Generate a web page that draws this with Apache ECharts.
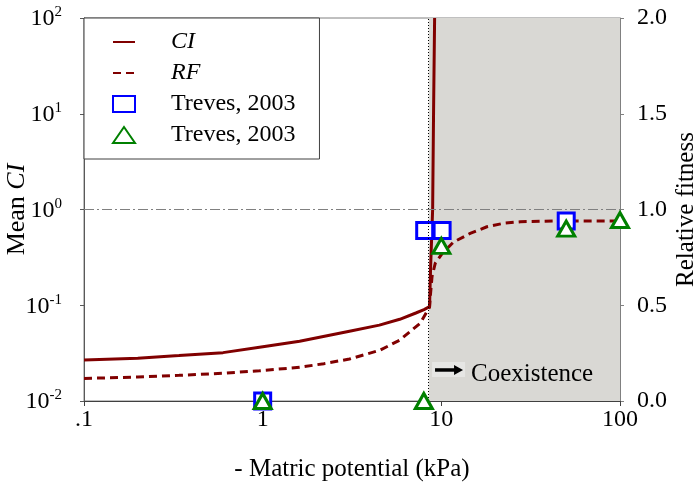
<!DOCTYPE html>
<html>
<head>
<meta charset="utf-8">
<script src="https://cdn.jsdelivr.net/npm/echarts@6/dist/echarts.min.js"></script>
<style>html,body{margin:0;padding:0;background:#fff}#c{width:696px;height:492px}</style>
</head>
<body>
<div id="c"></div>
<script>
// ---- data ----
var ciX = [0.1, 0.2, 0.34, 0.6, 0.96, 1.61, 3.06, 4.5, 5.85, 7.2, 8.0, 8.59, 8.71, 8.94, 9.05, 9.17];
var ciY = [0.0268, 0.028, 0.0298, 0.032, 0.0364, 0.042, 0.0536, 0.062, 0.0713, 0.083, 0.09, 0.0966, 0.25, 1.0, 11, 100];
var rfX = [0.1, 0.2, 0.34, 0.6, 0.96, 1.61, 2.2, 3.06, 4.55, 5.85, 7.62, 8.59, 8.7, 8.87, 9.25, 10.1, 11.7, 14.5, 18, 22.3, 27.7, 42, 100];
var rfY = [0.118, 0.125, 0.134, 0.145, 0.158, 0.176, 0.195, 0.219, 0.266, 0.318, 0.406, 0.49, 0.56, 0.65, 0.72, 0.77, 0.83, 0.875, 0.91, 0.928, 0.936, 0.94, 0.94];
var sqX = [1, 8.07, 10.1, 50];
var sqY = [0, 0.89, 0.89, 0.94];
var triX = [1, 7.98, 10, 50, 100];
var triY = [0, 0, 0.81, 0.90, 0.945];
var xTickLabels = ['.1', '1', '10', '100'];
var coexStart = 8.5;          // boundary of coexistence region (kPa)
var refLineRF = 1.0;          // reference line (relative fitness = 1, CI = 1)
var annoPoint = [9.22, 0.162];
var annoText = 'Coexistence';
var legendLabels = {CI: '{i|CI}', RF: '{i|RF}', sq: 'Treves, 2003', tri: 'Treves, 2003'};

function zip(a, b) { return a.map(function (v, i) { return [v, b[i]]; }); }

var FONT = 'Liberation Serif';
var RED = '#800000';
var chart = echarts.init(document.getElementById('c'), null, {renderer: 'canvas'});
var hideSym = {opacity: 0, color: 'transparent', borderColor: 'transparent', borderWidth: 0};

var option = {
  animation: false,
  backgroundColor: '#fff',
  grid: {left: 84, right: 76, top: 18, bottom: 91, containLabel: false, outerBoundsMode: 'none',
    show: true, borderColor: '#808080', borderWidth: 1, backgroundColor: 'transparent'},
  legend: {
    orient: 'vertical', left: 84, top: 18,
    padding: [12, 24, 12, 28], itemGap: 7, itemWidth: 22, itemHeight: 16,
    borderColor: '#404040', borderWidth: 1, backgroundColor: '#fff',
    data: [{name: 'CI', itemStyle: hideSym}, {name: 'RF', itemStyle: hideSym}, 'sq', 'tri'],
    formatter: function (n) { return legendLabels[n]; },
    textStyle: {fontFamily: FONT, fontSize: 24, color: '#000', padding: [0, 0, 0, 31],
      rich: {i: {fontFamily: FONT, fontSize: 24, fontStyle: 'italic', color: '#000'}}}
  },
  xAxis: {
    type: 'log', logBase: 10, min: 0.1, max: 100,
    name: '- Matric potential (kPa)', nameLocation: 'middle', nameGap: 56, nameMoveOverlap: false,
    nameTextStyle: {fontFamily: FONT, fontSize: 25, color: '#000'},
    axisLine: {show: true, lineStyle: {color: '#404040', width: 1}},
    axisTick: {show: true, inside: false, length: 5, lineStyle: {color: '#404040'}},
    minorTick: {show: false}, splitLine: {show: false}, minorSplitLine: {show: false},
    axisLabel: {fontFamily: FONT, fontSize: 24, color: '#000', margin: 7, showMinLabel: true, showMaxLabel: true,
      formatter: function (v) { var e = Math.round(Math.log10(v)); return xTickLabels[e + 1]; }}
  },
  yAxis: [{
    type: 'log', logBase: 10, min: 0.01, max: 100, position: 'left',
    name: '{n|Mean }{i|CI}', nameLocation: 'middle', nameGap: 54, nameRotate: 90, nameMoveOverlap: false,
    nameTextStyle: {fontFamily: FONT, fontSize: 26, color: '#000',
      rich: {n: {fontFamily: FONT, fontSize: 26, color: '#000'}, i: {fontFamily: FONT, fontSize: 26, fontStyle: 'italic', color: '#000'}}},
    axisLine: {show: true, lineStyle: {color: '#595959', width: 1}},
    axisTick: {show: true, inside: false, length: 4, lineStyle: {color: '#595959'}},
    minorTick: {show: false}, splitLine: {show: false}, minorSplitLine: {show: false},
    axisLabel: {margin: 22, showMinLabel: true, showMaxLabel: true,
      formatter: function (v) { var e = Math.round(Math.log10(v)); return '{b|10}{s|' + e + '}'; },
      rich: {
        b: {fontFamily: FONT, fontSize: 24, color: '#000', lineHeight: 26, verticalAlign: 'bottom'},
        s: {fontFamily: FONT, fontSize: 15, color: '#000', lineHeight: 15, verticalAlign: 'top'}
      }}
  }, {
    type: 'value', min: 0, max: 2, interval: 0.5, position: 'right',
    name: 'Relative fitness', nameLocation: 'middle', nameGap: 54, nameRotate: 90, nameMoveOverlap: false,
    nameTextStyle: {fontFamily: FONT, fontSize: 25, color: '#000'},
    axisLine: {show: true, lineStyle: {color: '#808080', width: 1}},
    axisTick: {show: true, inside: false, length: 4, lineStyle: {color: '#808080'}},
    splitLine: {show: false},
    axisLabel: {fontFamily: FONT, fontSize: 24, color: '#000', margin: 17,
      formatter: function (v) { return v.toFixed(1); }}
  }],
  series: [{
    name: 'CI', type: 'line', xAxisIndex: 0, yAxisIndex: 0, z: 3,
    data: zip(ciX, ciY), symbol: 'none', smooth: false,
    lineStyle: {color: RED, width: 3}, itemStyle: {color: RED}
  }, {
    name: 'RF', type: 'line', xAxisIndex: 0, yAxisIndex: 1, z: 3,
    data: zip(rfX, rfY), symbol: 'none', smooth: false,
    lineStyle: {color: RED, width: 3, type: [8, 5]}, itemStyle: {color: RED},
    markArea: {silent: true, z: 1, itemStyle: {color: '#d9d8d4'}, data: [[{xAxis: coexStart}, {xAxis: 100}]]},
    markLine: {silent: true, symbol: 'none', label: {show: false}, animation: false,
      data: [
        {xAxis: coexStart, lineStyle: {color: '#000', width: 1, type: [1, 2]}},
        {yAxis: refLineRF, lineStyle: {color: '#808080', width: 1, type: [10, 3, 2, 3]}}
      ]}
  }, {
    name: 'sq', type: 'scatter', xAxisIndex: 0, yAxisIndex: 1, z: 4, clip: false,
    data: zip(sqX, sqY), symbol: 'rect', symbolSize: 16,
    itemStyle: {color: '#fff', borderColor: '#0000ff', borderWidth: 3, opacity: 1}
  }, {
    name: 'tri', type: 'scatter', xAxisIndex: 0, yAxisIndex: 1, z: 5, clip: false,
    data: zip(triX, triY), symbol: 'triangle', symbolSize: [17, 15],
    itemStyle: {color: '#fff', borderColor: '#008000', borderWidth: 3, opacity: 1}
  }, {
    name: 'anno', type: 'custom', xAxisIndex: 0, yAxisIndex: 1, z: 2, silent: true,
    data: [annoPoint],
    renderItem: function (params, api) {
      var p = api.coord([api.value(0), api.value(1)]);
      return {type: 'group', x: p[0], y: p[1], children: [
        {type: 'rect', shape: {x: -3, y: -8, width: 33, height: 15}, style: {fill: '#e6e6e4'}},
        {type: 'line', shape: {x1: 0, y1: 0, x2: 21, y2: 0}, style: {stroke: '#000', lineWidth: 3.5}},
        {type: 'polygon', shape: {points: [[19, -5], [28, 0], [19, 5]]}, style: {fill: '#000'}},
        {type: 'text', x: 36, y: 4, style: {text: annoText, fontFamily: FONT, fontSize: 25, fill: '#000', verticalAlign: 'middle', align: 'left'}}
      ]};
    }
  }]
};
chart.setOption(option);
</script>
</body>
</html>
